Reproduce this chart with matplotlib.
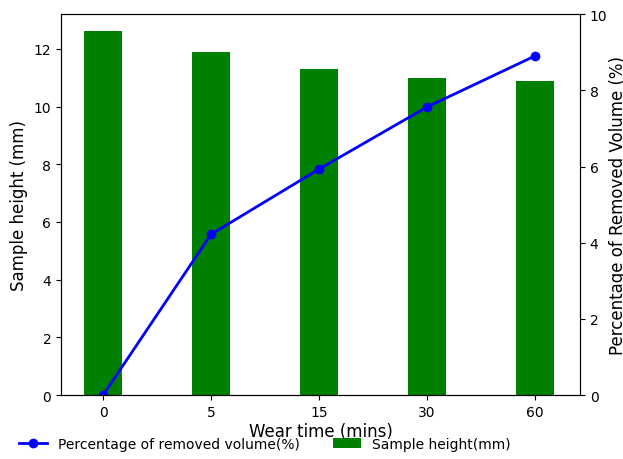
import matplotlib.pyplot as plt
import numpy as np

wear_times = ['0', '5', '15', '30', '60']
sample_height = [12.6, 11.9, 11.3, 11.0, 10.9]
removed_volume = [0.0, 4.22, 5.93, 7.56, 8.9]

x = np.arange(len(wear_times))

fig, ax1 = plt.subplots(figsize=(6.23, 4.6), dpi=100)
fig.subplots_adjust(left=0.098, right=0.931, top=0.967, bottom=0.139)

bars = ax1.bar(x, sample_height, width=0.35, color='green', label='Sample height(mm)')
ax1.set_ylabel('Sample height (mm)', fontsize=12)
ax1.set_xlabel('Wear time (mins)', fontsize=12, labelpad=2)
ax1.set_xticks(x)
ax1.set_xticklabels(wear_times)
ax1.set_xlim(-0.39, 4.42)
ax1.set_ylim(0, 13.2)

ax2 = ax1.twinx()
line, = ax2.plot(x, removed_volume, color='blue', marker='o', linewidth=2,
                 markersize=6, label='Percentage of removed volume(%)')
ax2.set_ylim(0, 10)
ax2.set_ylabel('Percentage of Removed Volume (%)', fontsize=12, labelpad=1)

fig.legend([line, bars], [line.get_label(), bars.get_label()],
           loc='lower left', bbox_to_anchor=(0.01, -0.01), ncol=2,
           frameon=False, fontsize=10, columnspacing=2.4)

fig.savefig('out.png')
